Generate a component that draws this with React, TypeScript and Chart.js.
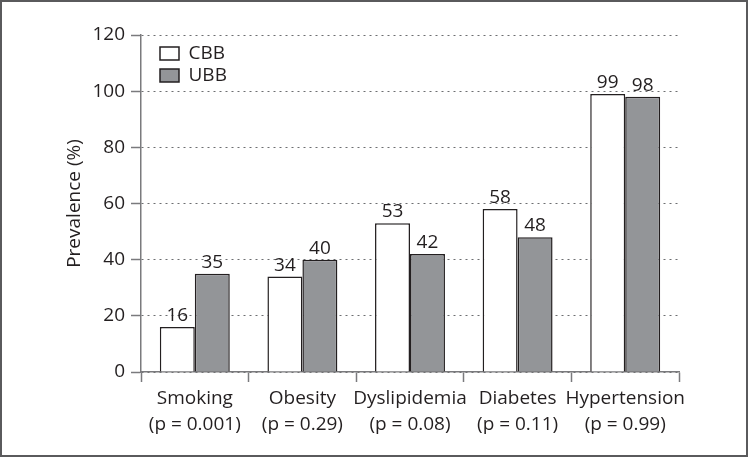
import React, { useEffect, useRef } from 'react';
import { Chart, registerables } from 'chart.js';

Chart.register(...registerables);

const categories: string[][] = [
  ['Smoking', '(p = 0.001)'],
  ['Obesity', '(p = 0.29)'],
  ['Dyslipidemia', '(p = 0.08)'],
  ['Diabetes', '(p = 0.11)'],
  ['Hypertension', '(p = 0.99)'],
];
const cbbValues = [16, 34, 53, 58, 99];
const ubbValues = [35, 40, 42, 48, 98];
const seriesNames = ['CBB', 'UBB'];
const yTitle = 'Prevalence (%)';

const FONT = '"Open Sans", "Noto Sans", sans-serif';
const TEXT = '#231f20';
const AXIS = '#7a7a7d';
const FS = 19;

const valueLabels = {
  id: 'valueLabels',
  afterDatasetsDraw(chart: any) {
    const ctx = chart.ctx;
    ctx.save();
    ctx.font = `${FS}px ${FONT}`;
    ctx.fillStyle = TEXT;
    ctx.textAlign = 'center';
    ctx.textBaseline = 'alphabetic';
    chart.data.datasets.forEach((ds: any, di: number) => {
      const meta = chart.getDatasetMeta(di);
      meta.data.forEach((el: any, i: number) => {
        ctx.fillText(String(ds.data[i]), el.x, el.y - 6);
      });
    });
    ctx.restore();
  },
};

const legendShift = {
  id: 'legendShift',
  afterLayout(chart: any) {
    const lg = chart.legend;
    if (!lg) return;
    const dx = chart.chartArea.left + 16 - lg.left;
    const dy = chart.chartArea.top + 6 - lg.top;
    lg.left += dx;
    lg.right += dx;
    lg.top += dy;
    lg.bottom += dy;
  },
};

const frame = {
  id: 'frame',
  afterDraw(chart: any) {
    const ctx = chart.ctx;
    ctx.save();
    ctx.strokeStyle = '#5a5a5c';
    ctx.lineWidth = 2;
    ctx.strokeRect(1, 1, 746, 455);
    ctx.restore();
  },
};

export default function App() {
  const ref = useRef<HTMLCanvasElement | null>(null);

  useEffect(() => {
    document.body.style.margin = '0';
    const canvas = ref.current;
    if (!canvas) return;
    const chart = new Chart(canvas, {
      type: 'bar',
      data: {
        labels: categories,
        datasets: [
          {
            label: seriesNames[0],
            data: cbbValues,
            backgroundColor: '#ffffff',
            borderColor: TEXT,
            borderWidth: 1.5,
            categoryPercentage: 0.65,
            barPercentage: 1.0,
          },
          {
            label: seriesNames[1],
            data: ubbValues,
            backgroundColor: '#939598',
            borderColor: TEXT,
            borderWidth: 1.5,
            categoryPercentage: 0.65,
            barPercentage: 1.0,
          },
        ],
      },
      options: {
        responsive: false,
        animation: false,
        devicePixelRatio: 1,
        layout: { padding: { left: 0, right: 71, top: 35, bottom: 0 } },
        plugins: {
          tooltip: { enabled: false },
          title: { display: false },
          legend: {
            display: true,
            position: 'chartArea',
            align: 'start',
            labels: {
              boxWidth: 19,
              boxHeight: 13,
              padding: 3,
              color: TEXT,
              font: { family: FONT, size: FS },
            },
          },
        },
        scales: {
          x: {
            afterFit: (s: any) => {
              s.height = 86;
            },
            grid: {
              display: true,
              offset: true,
              drawOnChartArea: false,
              drawTicks: true,
              tickLength: 10,
              tickColor: AXIS,
              tickWidth: 1.5,
              color: AXIS,
            },
            border: { display: true, color: AXIS, width: 1.5 },
            ticks: {
              color: TEXT,
              padding: 4,
              maxRotation: 0,
              autoSkip: false,
              font: { family: FONT, size: FS, lineHeight: 1.35 },
            },
          },
          y: {
            min: 0,
            max: 120,
            afterFit: (s: any) => {
              s.width = 141;
            },
            ticks: {
              stepSize: 20,
              color: TEXT,
              padding: 6,
              font: { family: FONT, size: FS },
            },
            grid: {
              display: true,
              color: '#6d6e71',
              lineWidth: 1,
              drawTicks: true,
              tickLength: 10,
              tickColor: AXIS,
              tickWidth: 1.5,
              tickBorderDash: [],
            },
            border: { display: true, color: AXIS, width: 1.5, dash: [2, 4] },
            title: {
              display: true,
              text: yTitle,
              color: TEXT,
              font: { family: FONT, size: FS },
              padding: { top: 63, bottom: 0 },
            },
          },
        },
      },
      plugins: [valueLabels, legendShift, frame],
    } as any);
    return () => chart.destroy();
  }, []);

  return (
    <div style={{ width: 750, height: 458, position: 'relative', background: '#fff' }}>
      <canvas ref={ref} width={750} height={458} style={{ display: 'block' }} />
    </div>
  );
}
